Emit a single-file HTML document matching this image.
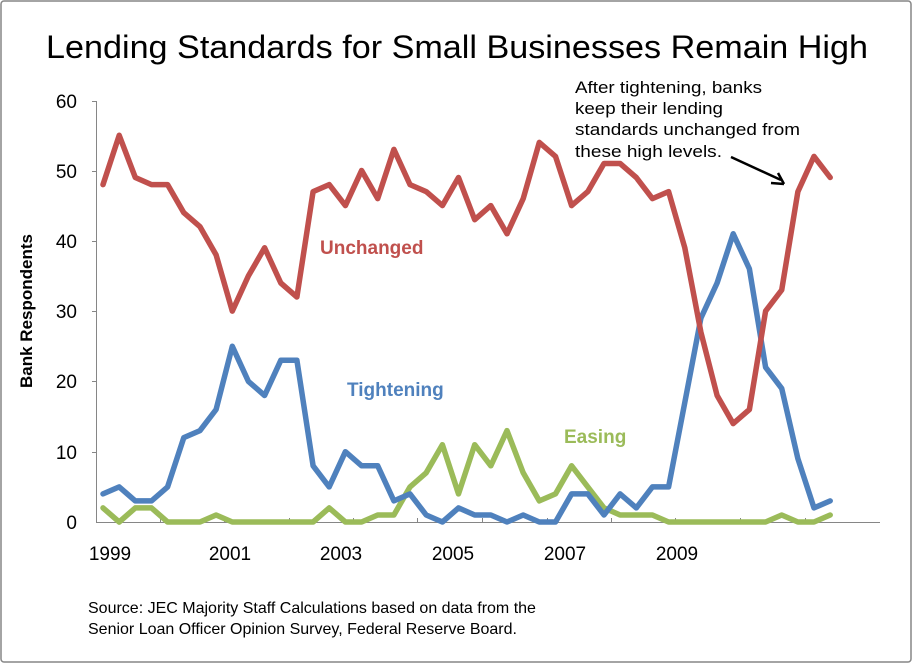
<!DOCTYPE html>
<html><head><meta charset="utf-8"><style>
body{margin:0;background:#fff}
svg{display:block;font-family:"Liberation Sans",Arial,sans-serif}
</style></head><body>
<svg id="s" width="913" height="664" viewBox="0 0 913 664" xmlns="http://www.w3.org/2000/svg">
<rect x="1" y="1" width="910" height="661" rx="3" fill="#fff" stroke="#868686" stroke-width="1.5"/>
<text x="46" y="58" font-size="32" textLength="822" lengthAdjust="spacingAndGlyphs">Lending Standards for Small Businesses Remain High</text>
<g stroke="#868686" stroke-width="1" fill="none">
<path d="M96.5 101V522.5H880"/>
<path d="M92 101.5h5M92 171.5h5M92 241.5h5M92 311.5h5M92 381.5h5M92 452.5h5"/>
<path d="M160.5 518v5M224.5 518v5M289.5 518v5M353.5 518v5M417.5 518v5M482.5 518v5M547.5 518v5M611.5 518v5M675.5 518v5M740.5 518v5M805.5 518v5"/>
</g>
<g font-size="19" text-anchor="end">
<text x="77" y="108">60</text><text x="77" y="178">50</text><text x="77" y="248">40</text>
<text x="77" y="318">30</text><text x="77" y="388">20</text><text x="77" y="459">10</text><text x="77" y="529">0</text>
</g>
<g font-size="19" text-anchor="middle">
<text x="110" y="560">1999</text><text x="230" y="560">2001</text><text x="341" y="560">2003</text>
<text x="453" y="560">2005</text><text x="565" y="560">2007</text><text x="677" y="560">2009</text>
</g>
<text transform="translate(32,311) rotate(-90)" font-size="17" font-weight="bold" text-anchor="middle">Bank Respondents</text>
<g id="lines" fill="none" stroke-width="5.5" stroke-linejoin="round" stroke-linecap="round"></g>
<text x="320" y="254" font-size="19" font-weight="bold" fill="#c0504d">Unchanged</text>
<text x="347" y="396" font-size="19" font-weight="bold" fill="#4f81bd">Tightening</text>
<text x="564" y="443" font-size="19" font-weight="bold" fill="#9bbb59">Easing</text>
<g font-size="17" lengthAdjust="spacingAndGlyphs">
<text x="575" y="93" textLength="187" lengthAdjust="spacingAndGlyphs">After tightening, banks</text>
<text x="575" y="114" textLength="148" lengthAdjust="spacingAndGlyphs">keep their lending</text>
<text x="575" y="135" textLength="225" lengthAdjust="spacingAndGlyphs">standards unchanged from</text>
<text x="575" y="157" textLength="147" lengthAdjust="spacingAndGlyphs">these high levels.</text>
</g>
<path d="M731 157L781 180" stroke="#000" stroke-width="2.5"/>
<path d="M784 184L771 183M784 184L778 173" stroke="#000" stroke-width="2.5" fill="none"/>
<g font-size="16">
<text x="88" y="613">Source: JEC Majority Staff Calculations based on data from the</text>
<text x="88" y="634">Senior Loan Officer Opinion Survey, Federal Reserve Board.</text>
</g>
</svg>
<script>
var U=[48,55,49,48,48,44,42,38,30,35,39,34,32,47,48,45,50,46,53,48,47,45,49,43,45,41,46,54,52,45,47,51,51,49,46,47,39,27,18,14,16,30,33,47,52,49];
var T=[4,5,3,3,5,12,13,16,25,20,18,23,23,8,5,10,8,8,3,4,1,0,2,1,1,0,1,0,0,4,4,1,4,2,5,5,17,29,34,41,36,22,19,9,2,3];
var E=[2,0,2,2,0,0,0,1,0,0,0,0,0,0,2,0,0,1,1,5,7,11,4,11,8,13,7,3,4,8,5,2,1,1,1,0,0,0,0,0,0,0,1,0,0,1];
function pts(a){return a.map(function(v,i){return (103+i*16.16).toFixed(1)+","+(522-v*7.03).toFixed(1)}).join(" ")}
var g=document.getElementById("lines"),ns="http://www.w3.org/2000/svg";
[[E,"#9bbb59"],[T,"#4f81bd"],[U,"#c0504d"]].forEach(function(d){var p=document.createElementNS(ns,"polyline");p.setAttribute("points",pts(d[0]));p.setAttribute("stroke",d[1]);g.appendChild(p);});
</script>
</body></html>
